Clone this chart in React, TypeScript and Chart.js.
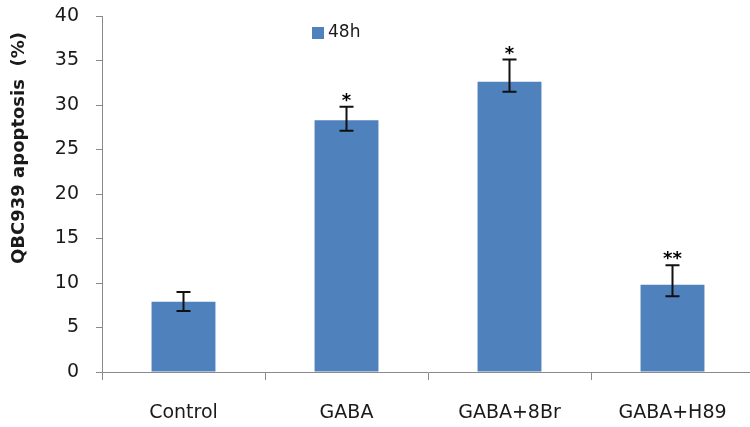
import React, { useEffect, useRef } from "react";
import { Chart, registerables } from "chart.js";

Chart.register(...registerables);

const categories = ["Control", "GABA", "GABA+8Br", "GABA+H89"];
const seriesLabel = "48h";
const apoptosis48h = [7.9, 28.3, 32.6, 9.8];
const errorPlus = [1.1, 1.5, 2.5, 2.2];
const errorMinus = [1.05, 1.2, 1.1, 1.3];
const significance = ["", "*", "*", "**"];
const yTitle = "QBC939 apoptosis  (%)";

const FONT = "'DejaVu Sans', Verdana, sans-serif";
const BAR_COLOR = "#4F81BD";
const AXIS_COLOR = "#8a8a8a";

const overlayPlugin = {
  id: "overlay",
  afterDatasetsDraw(chart: any) {
    const ctx = chart.ctx;
    const y = chart.scales.y;
    const meta = chart.getDatasetMeta(0);
    ctx.save();
    meta.data.forEach((el: any, i: number) => {
      const v = apoptosis48h[i];
      const top = y.getPixelForValue(v + errorPlus[i]);
      const bot = y.getPixelForValue(v - errorMinus[i]);
      ctx.strokeStyle = "#111";
      ctx.lineWidth = 2;
      ctx.beginPath();
      ctx.moveTo(el.x, top);
      ctx.lineTo(el.x, bot);
      ctx.moveTo(el.x - 7, top);
      ctx.lineTo(el.x + 7, top);
      ctx.moveTo(el.x - 7, bot);
      ctx.lineTo(el.x + 7, bot);
      ctx.stroke();
      const s = significance[i];
      if (s) {
        ctx.fillStyle = "#000";
        ctx.font = `bold 18px ${FONT}`;
        ctx.textAlign = "center";
        ctx.textBaseline = "alphabetic";
        ctx.fillText(s, el.x, top - 12 + 11);
      }
    });
    ctx.restore();
  },
  afterDraw(chart: any) {
    const ctx = chart.ctx;
    ctx.save();
    // legend
    ctx.fillStyle = BAR_COLOR;
    ctx.fillRect(312, 27, 12, 12);
    ctx.fillStyle = "#1a1a1a";
    ctx.font = `17px ${FONT}`;
    ctx.textAlign = "left";
    ctx.textBaseline = "middle";
    ctx.fillText(seriesLabel, 328, 33);
    // y title
    ctx.translate(19, 148);
    ctx.rotate(-Math.PI / 2);
    ctx.font = `bold 18px ${FONT}`;
    ctx.textAlign = "center";
    ctx.textBaseline = "middle";
    ctx.fillText(yTitle, 0, 0);
    ctx.restore();
  },
};

export default function App() {
  const ref = useRef<HTMLCanvasElement | null>(null);
  useEffect(() => {
    if (!ref.current) return;
    const chart = new Chart(ref.current, {
      type: "bar",
      data: {
        labels: categories,
        datasets: [
          {
            label: seriesLabel,
            data: apoptosis48h,
            backgroundColor: BAR_COLOR,
            borderWidth: 0,
            barPercentage: 0.8,
            categoryPercentage: 0.49,
          },
        ],
      },
      options: {
        animation: false,
        responsive: true,
        maintainAspectRatio: false,
        layout: { padding: { top: 16, right: 6, left: 0, bottom: 0 } },
        plugins: { legend: { display: false }, tooltip: { enabled: false } },
        scales: {
          x: {
            offset: true,
            grid: {
              display: true,
              offset: true,
              drawOnChartArea: false,
              drawTicks: true,
              tickLength: 8,
              color: AXIS_COLOR,
            },
            border: { display: true, color: AXIS_COLOR, width: 1 },
            ticks: {
              color: "#1a1a1a",
              font: { family: FONT, size: 19 },
              padding: 22,
              maxRotation: 0,
            },
            afterFit(s: any) {
              s.height = 55;
              s.paddingLeft = 0;
              s.paddingRight = 0;
            },
          },
          y: {
            min: 0,
            max: 40,
            grid: {
              display: true,
              drawOnChartArea: false,
              drawTicks: true,
              tickLength: 6,
              color: AXIS_COLOR,
            },
            border: { display: true, color: AXIS_COLOR, width: 1 },
            ticks: {
              stepSize: 5,
              color: "#1a1a1a",
              font: { family: FONT, size: 19 },
              padding: 17,
            },
            afterFit(s: any) {
              s.width = 102;
              s.paddingTop = 0;
              s.paddingBottom = 0;
            },
          },
        },
      },
      plugins: [overlayPlugin],
    });
    return () => chart.destroy();
  }, []);
  return (
    <div
      style={{
        position: "fixed",
        left: 0,
        top: 0,
        width: 760,
        height: 427,
        background: "#fff",
      }}
    >
      <canvas ref={ref} />
    </div>
  );
}
